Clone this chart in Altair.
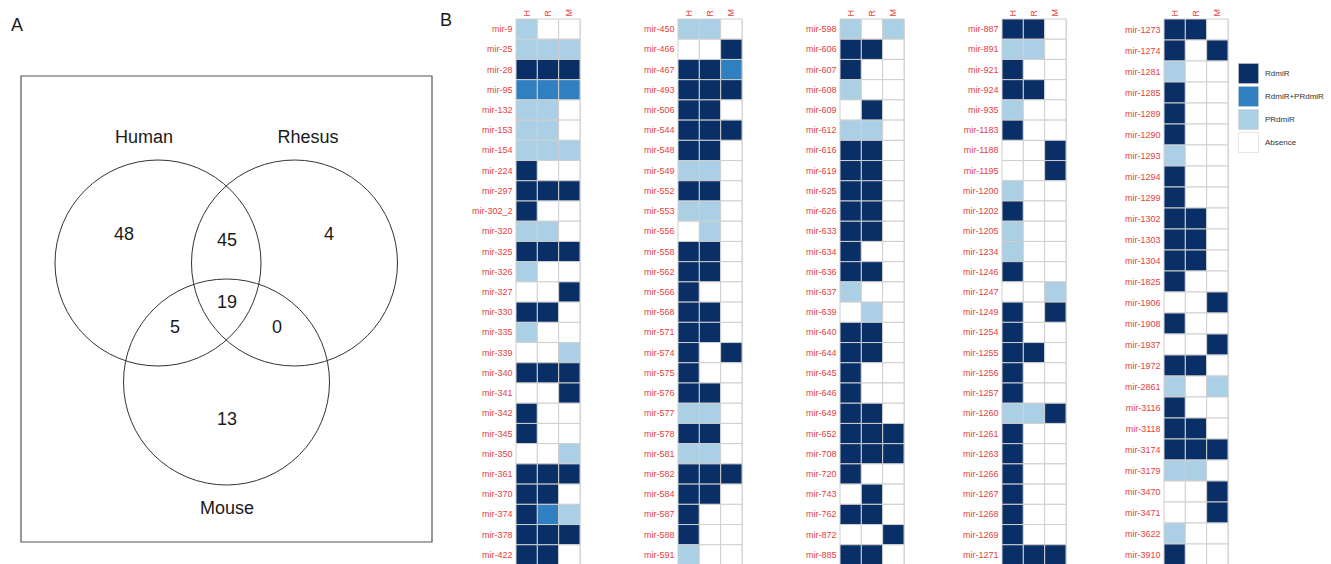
import altair as alt
import pandas as pd

# ---------------- data ----------------
STATUS = ["Absence", "PRdmiR", "RdmiR+PRdmiR", "RdmiR"]  # index = code
LEGEND_ORDER = ["RdmiR", "RdmiR+PRdmiR", "PRdmiR", "Absence"]
COLORS = ["#0a2f66", "#2f7fc1", "#abd0e6", "#ffffff"]
SPECIES = ["H", "R", "M"]

col1_mirs = ["mir-9", "mir-25", "mir-28", "mir-95", "mir-132", "mir-153", "mir-154", "mir-224", "mir-297",
             "mir-302_2", "mir-320", "mir-325", "mir-326", "mir-327", "mir-330", "mir-335", "mir-339", "mir-340",
             "mir-341", "mir-342", "mir-345", "mir-350", "mir-361", "mir-370", "mir-374", "mir-378", "mir-422"]
col1_H = [1, 1, 3, 2, 1, 1, 1, 3, 3, 3, 1, 3, 1, 0, 3, 1, 0, 3, 0, 3, 3, 0, 3, 3, 3, 3, 3]
col1_R = [0, 1, 3, 2, 1, 1, 1, 0, 3, 0, 1, 3, 0, 0, 3, 0, 0, 3, 0, 0, 0, 0, 3, 3, 2, 3, 3]
col1_M = [0, 1, 3, 2, 0, 0, 1, 0, 3, 0, 0, 3, 0, 3, 0, 0, 1, 3, 3, 0, 0, 1, 3, 0, 1, 3, 0]

col2_mirs = ["mir-450", "mir-466", "mir-467", "mir-493", "mir-506", "mir-544", "mir-548", "mir-549", "mir-552",
             "mir-553", "mir-556", "mir-558", "mir-562", "mir-566", "mir-568", "mir-571", "mir-574", "mir-575",
             "mir-576", "mir-577", "mir-578", "mir-581", "mir-582", "mir-584", "mir-587", "mir-588", "mir-591"]
col2_H = [1, 0, 3, 3, 3, 3, 3, 1, 3, 1, 0, 3, 3, 3, 3, 3, 3, 3, 3, 1, 3, 1, 3, 3, 3, 3, 1]
col2_R = [1, 0, 3, 3, 3, 3, 3, 1, 3, 1, 1, 3, 3, 0, 3, 3, 0, 0, 3, 1, 3, 1, 3, 3, 0, 0, 0]
col2_M = [0, 3, 2, 3, 0, 3, 0, 0, 0, 0, 0, 0, 0, 0, 0, 0, 3, 0, 0, 0, 0, 0, 3, 0, 0, 0, 0]

col3_mirs = ["mir-598", "mir-606", "mir-607", "mir-608", "mir-609", "mir-612", "mir-616", "mir-619", "mir-625",
             "mir-626", "mir-633", "mir-634", "mir-636", "mir-637", "mir-639", "mir-640", "mir-644", "mir-645",
             "mir-646", "mir-649", "mir-652", "mir-708", "mir-720", "mir-743", "mir-762", "mir-872", "mir-885"]
col3_H = [1, 3, 3, 1, 0, 1, 3, 3, 3, 3, 3, 3, 3, 1, 0, 3, 3, 3, 3, 3, 3, 3, 3, 0, 3, 0, 3]
col3_R = [0, 3, 0, 0, 3, 1, 3, 3, 3, 3, 3, 0, 3, 0, 1, 3, 3, 0, 0, 3, 3, 3, 0, 3, 3, 0, 3]
col3_M = [1, 0, 0, 0, 0, 0, 0, 0, 0, 0, 0, 0, 0, 0, 0, 0, 0, 0, 0, 0, 3, 3, 0, 0, 0, 3, 0]

col4_mirs = ["mir-887", "mir-891", "mir-921", "mir-924", "mir-935", "mir-1183", "mir-1188", "mir-1195", "mir-1200",
             "mir-1202", "mir-1205", "mir-1234", "mir-1246", "mir-1247", "mir-1249", "mir-1254", "mir-1255",
             "mir-1256", "mir-1257", "mir-1260", "mir-1261", "mir-1263", "mir-1266", "mir-1267", "mir-1268",
             "mir-1269", "mir-1271"]
col4_H = [3, 1, 3, 3, 1, 3, 0, 0, 1, 3, 1, 1, 3, 0, 3, 3, 3, 3, 3, 1, 3, 3, 3, 3, 3, 3, 3]
col4_R = [3, 1, 0, 3, 0, 0, 0, 0, 0, 0, 0, 0, 0, 0, 0, 0, 3, 0, 0, 1, 0, 0, 0, 0, 0, 0, 3]
col4_M = [0, 0, 0, 0, 0, 0, 3, 3, 0, 0, 0, 0, 0, 1, 3, 0, 0, 0, 0, 3, 0, 0, 0, 0, 0, 0, 3]

col5_mirs = ["mir-1273", "mir-1274", "mir-1281", "mir-1285", "mir-1289", "mir-1290", "mir-1293", "mir-1294",
             "mir-1299", "mir-1302", "mir-1303", "mir-1304", "mir-1825", "mir-1906", "mir-1908", "mir-1937",
             "mir-1972", "mir-2861", "mir-3116", "mir-3118", "mir-3174", "mir-3179", "mir-3470", "mir-3471",
             "mir-3622", "mir-3910"]
col5_H = [3, 3, 1, 3, 3, 3, 1, 3, 3, 3, 3, 3, 3, 0, 3, 0, 3, 1, 3, 3, 3, 1, 0, 0, 1, 3]
col5_R = [3, 0, 0, 0, 0, 0, 0, 0, 0, 3, 3, 3, 0, 0, 0, 0, 3, 0, 0, 3, 3, 1, 0, 0, 0, 0]
col5_M = [0, 3, 0, 0, 0, 0, 0, 0, 0, 0, 0, 0, 0, 3, 0, 3, 0, 1, 0, 0, 3, 0, 3, 3, 0, 0]

set_names = ["Human", "Rhesus", "Mouse"]
region_counts = [48, 45, 4, 19, 5, 0, 13]  # H only, H&R, R only, all, H&M, R&M, M only

# ---------------- layout (page-pixel frame of panel A) ----------------
FONT = "Liberation Sans"
RED = "#e8413c"
TOP = 18
HEAT_H = 546
VENN_W = 418
circle_xy = [(158, 262), (294.5, 262), (226.5, 381)]
set_label_xy = [(144, 137), (308, 137), (227, 508)]
count_xy = [(124, 234), (227, 240), (329, 234), (227, 302), (175, 327), (277, 327), (227, 419)]
box = dict(x=21, x2=432, y=75, y2=541)

xs = alt.Scale(domain=[0, VENN_W], nice=False, zero=False)
ys = alt.Scale(domain=[TOP, TOP + HEAT_H], reverse=True, nice=False, zero=False)

circles = pd.DataFrame({"name": set_names, "x": [c[0] for c in circle_xy], "y": [c[1] for c in circle_xy]})
labels = pd.DataFrame({"t": set_names, "x": [p[0] for p in set_label_xy], "y": [p[1] for p in set_label_xy]})
counts = pd.DataFrame({"t": [str(c) for c in region_counts], "x": [p[0] for p in count_xy],
                       "y": [p[1] for p in count_xy]})
letters = pd.DataFrame({"t": ["A", "B"], "x": [17, 446], "y": [25, 20]})
boxdf = pd.DataFrame([box])

box_layer = alt.Chart(boxdf).mark_rect(fillOpacity=0, stroke="#555555", strokeWidth=1.2).encode(
    x=alt.X("x:Q", scale=xs, axis=None), x2="x2:Q",
    y=alt.Y("y:Q", scale=ys, axis=None), y2="y2:Q")
circle_layer = alt.Chart(circles).mark_point(shape="circle", filled=False, size=206 * 206,
                                             stroke="#333333", strokeWidth=1, opacity=1).encode(
    x=alt.X("x:Q", scale=xs, axis=None), y=alt.Y("y:Q", scale=ys, axis=None))
text_kw = dict(font=FONT, fontSize=18, color="#1a1a1a", align="center", baseline="middle")
label_layer = alt.Chart(labels).mark_text(**text_kw).encode(
    x=alt.X("x:Q", scale=xs, axis=None), y=alt.Y("y:Q", scale=ys, axis=None), text="t:N")
count_layer = alt.Chart(counts).mark_text(**text_kw).encode(
    x=alt.X("x:Q", scale=xs, axis=None), y=alt.Y("y:Q", scale=ys, axis=None), text="t:N")
letter_layer = alt.Chart(letters).mark_text(**text_kw).encode(
    x=alt.X("x:Q", scale=xs, axis=None), y=alt.Y("y:Q", scale=ys, axis=None), text="t:N")

venn = alt.layer(box_layer, circle_layer, label_layer, count_layer, letter_layer).properties(
    width=VENN_W, height=HEAT_H, view=alt.ViewBackground(stroke="transparent", strokeWidth=0))

LEG = alt.Legend(orient="none", legendX=1238, legendY=44, title=None, symbolType="square",
                 symbolSize=400, symbolStrokeColor="#cccccc", symbolStrokeWidth=0.5, rowPadding=0,
                 labelFontSize=8, labelFont=FONT, labelColor="#333333", labelOffset=6, padding=0,
                 symbolOpacity=1)


def heat(mirs, H, R, M):
    rows = []
    for name, h, r, m in zip(mirs, H, R, M):
        for sp, v in zip(SPECIES, (h, r, m)):
            rows.append({"mir": name, "species": sp, "status": STATUS[v]})
    df = pd.DataFrame(rows)
    return alt.Chart(df).mark_rect(stroke="#cfcfcf", strokeWidth=1).encode(
        x=alt.X("species:N", sort=SPECIES, scale=alt.Scale(paddingInner=0, paddingOuter=0),
                axis=alt.Axis(orient="top", title=None, labelAngle=270, labelAlign="left",
                              labelBaseline="middle", labelColor=RED, labelFontSize=9, labelFont=FONT,
                              ticks=False, domain=False, labelPadding=3)),
        y=alt.Y("mir:N", sort=mirs, scale=alt.Scale(paddingInner=0, paddingOuter=0),
                axis=alt.Axis(title=None, labelColor=RED, labelFontSize=9, labelFont=FONT,
                              ticks=False, domain=False, labelPadding=4)),
        color=alt.Color("status:N", scale=alt.Scale(domain=LEGEND_ORDER, range=COLORS), legend=LEG),
    ).properties(width=64, height=HEAT_H)


panels = [
    heat(col1_mirs, col1_H, col1_R, col1_M),
    heat(col2_mirs, col2_H, col2_R, col2_M),
    heat(col3_mirs, col3_H, col3_R, col3_M),
    heat(col4_mirs, col4_H, col4_R, col4_M),
    heat(col5_mirs, col5_H, col5_R, col5_M),
]

chart = alt.hconcat(venn, *panels, spacing=98, bounds="flush").properties(
    padding={"left": 0, "top": 8, "right": 5, "bottom": 0}
).configure_view(stroke="transparent", strokeWidth=0).configure(background="white")

chart.save("out.html", embed_options={"renderer": "svg", "actions": False})
